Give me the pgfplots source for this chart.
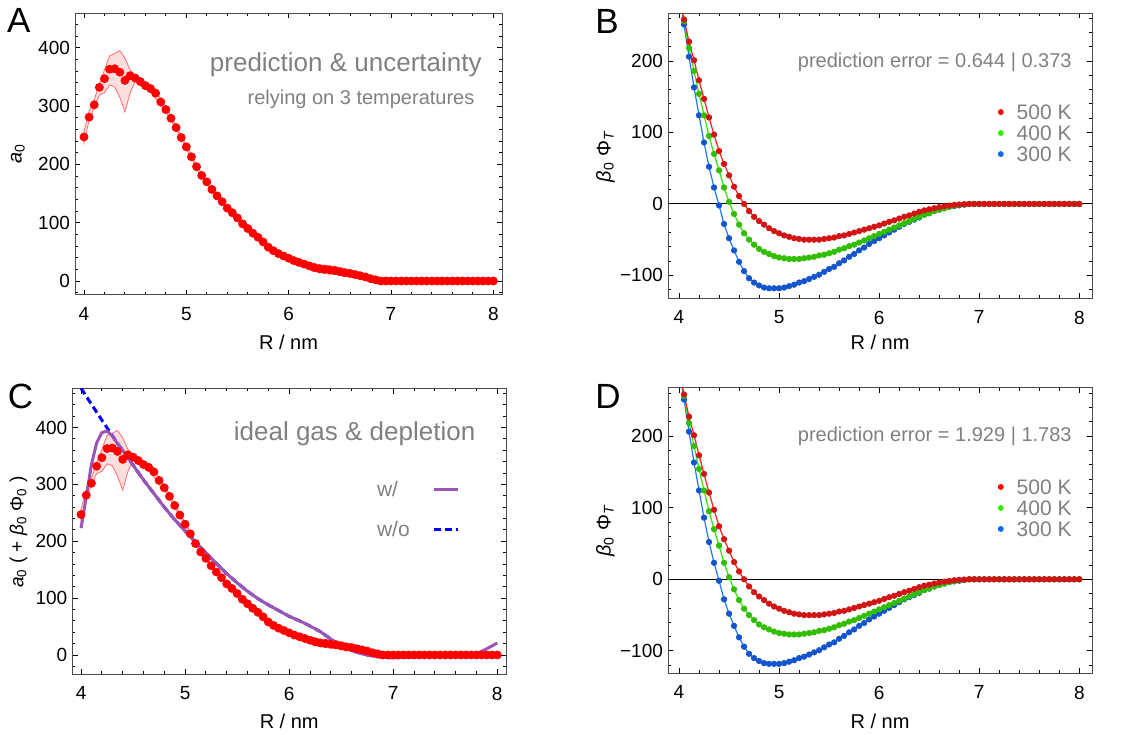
\documentclass[border=0pt]{standalone}
\usepackage{fontspec}
\setmainfont{Liberation Sans}
\usepackage{pgfplots}
\pgfplotsset{compat=1.18}
\usepackage{pgfplotstable}

\definecolor{dotred}{RGB}{255,0,0}
\definecolor{bandfill}{RGB}{253,222,222}
\definecolor{bandline}{RGB}{255,110,110}
\definecolor{rdot}{RGB}{210,20,20}
\definecolor{gdot}{RGB}{50,190,0}
\definecolor{bdot}{RGB}{20,85,205}
\definecolor{rline}{RGB}{255,30,30}
\definecolor{gline}{RGB}{40,235,0}
\definecolor{bline}{RGB}{30,120,255}
\definecolor{rleg}{RGB}{255,0,0}
\definecolor{gleg}{RGB}{51,238,0}
\definecolor{bleg}{RGB}{0,102,255}
\definecolor{purp}{RGB}{155,85,180}
\definecolor{dashblue}{RGB}{0,0,255}
\definecolor{txtgray}{RGB}{128,128,128}

% panel A / C : a0 values
\pgfplotstableread{
x v
4.00 247
4.05 281
4.10 302
4.15 332
4.20 347
4.25 363
4.30 364
4.35 358
4.40 344
4.45 352
4.50 348
4.55 342
4.60 335
4.65 330
4.70 322
4.75 307
4.80 294
4.85 279
4.90 263
4.95 246
5.00 230
5.05 213
5.10 196
5.15 181
5.20 170
5.25 157
5.30 146
5.35 136
5.40 125
5.45 117
5.50 108
5.55 98
5.60 90
5.65 82
5.70 75
5.75 67
5.80 58
5.85 52
5.90 47
5.95 43
6.00 39
6.05 35
6.10 32
6.15 29
6.20 26
6.25 23
6.30 21
6.35 20
6.40 19
6.45 18
6.50 16
6.55 14
6.60 13
6.65 11
6.70 9
6.75 7
6.80 4
6.85 2
6.90 0
6.95 0
7.00 0
7.05 0
7.10 0
7.15 0
7.20 0
7.25 0
7.30 0
7.35 0
7.40 0
7.45 0
7.50 0
7.55 0
7.60 0
7.65 0
7.70 0
7.75 0
7.80 0
7.85 0
7.90 0
7.95 0
8.00 0
}\adata

% uncertainty band outline: upper edge forward, lower edge backward
\pgfplotstableread{
x y
4.00 256
4.05 291
4.10 311
4.15 338
4.20 362
4.25 386
4.30 390
4.35 395
4.40 382
4.45 362
4.50 352
4.55 346
4.60 340
4.65 335
4.70 329
4.75 312
4.80 298
4.85 282
4.90 266
4.95 249
5.00 233
5.05 216
5.10 199
5.15 184
5.20 173
5.25 160
5.30 149
5.35 139
5.40 128
5.45 120
5.50 111
5.55 101
5.60 93
5.65 85
5.70 78
5.75 70
5.80 61
5.85 56
5.90 51
5.95 47
6.00 44
6.05 40
6.10 37
6.15 34
6.20 32
6.25 30
6.30 28
6.35 27
6.40 26
6.45 25
6.50 23
6.55 21
6.60 19
6.65 17
6.70 15
6.75 12
6.80 8
6.85 4
6.90 1
6.90 0
6.85 0
6.80 1
6.75 3
6.70 4
6.65 5
6.60 7
6.55 8
6.50 10
6.45 11
6.40 12
6.35 13
6.30 15
6.25 17
6.20 20
6.15 24
6.10 27
6.05 30
6.00 34
5.95 39
5.90 43
5.85 48
5.80 55
5.75 64
5.70 72
5.65 79
5.60 87
5.55 95
5.50 105
5.45 114
5.40 122
5.35 133
5.30 143
5.25 154
5.20 167
5.15 178
5.10 193
5.05 210
5.00 227
4.95 243
4.90 260
4.85 276
4.80 290
4.75 300
4.70 313
4.65 324
4.60 331
4.55 338
4.50 343
4.45 322
4.40 290
4.35 315
4.30 333
4.25 336
4.20 323
4.15 319
4.10 298
4.05 276
4.00 237
}\band

% panel B / D : beta0 Phi_T at 500 K (r), 400 K (g), 300 K (b); first row only for the lines
\pgfplotstableread{
x r g b
4.00 289 296 296
4.05 258 256 251
4.10 227 218 206
4.15 201 186 163
4.20 173 154 124
4.25 147 124 86
4.30 121 95 52
4.35 97 70 23
4.40 74 47 -2
4.45 56 23 -28
4.50 40 3 -48
4.55 24 -14 -65
4.60 11 -29 -81
4.65 0 -41 -94
4.70 -10 -50 -104
4.75 -18 -57 -110
4.80 -24 -63 -114
4.85 -29 -67 -117
4.90 -34 -70 -118
4.95 -38 -73 -118
5.00 -41 -75 -118
5.05 -44 -76 -117
5.10 -46 -77 -115
5.15 -48 -77 -113
5.20 -49 -77 -110
5.25 -50 -76 -108
5.30 -50 -75 -105
5.35 -50 -74 -102
5.40 -50 -72 -99
5.45 -49 -71 -95
5.50 -48 -69 -91
5.55 -47 -67 -88
5.60 -45 -64 -83
5.65 -44 -62 -79
5.70 -42 -59 -74
5.75 -40 -57 -70
5.80 -38 -54 -65
5.85 -36 -51 -61
5.90 -34 -48 -56
5.95 -32 -45 -52
6.00 -30 -42 -48
6.05 -27.5 -39 -44
6.10 -25 -36 -40
6.15 -23 -33 -36
6.20 -20.5 -30 -32
6.25 -18 -27 -28
6.30 -16 -24 -25
6.35 -13.5 -21 -22
6.40 -11 -18 -19
6.45 -9 -15 -15
6.50 -7.5 -13 -13
6.55 -6 -10 -10
6.60 -4.5 -8 -8
6.65 -3.3 -6 -6
6.70 -2.3 -4 -4
6.75 -1.4 -2.5 -3
6.80 -0.8 -1.5 -2
6.85 -0.4 -0.7 -1
6.90 0 0 0
6.95 0 0 0
7.00 0 0 0
7.05 0 0 0
7.10 0 0 0
7.15 0 0 0
7.20 0 0 0
7.25 0 0 0
7.30 0 0 0
7.35 0 0 0
7.40 0 0 0
7.45 0 0 0
7.50 0 0 0
7.55 0 0 0
7.60 0 0 0
7.65 0 0 0
7.70 0 0 0
7.75 0 0 0
7.80 0 0 0
7.85 0 0 0
7.90 0 0 0
7.95 0 0 0
8.00 0 0 0
}\bdata

% panel C : with (w) and without (wo) ideal gas term
\pgfplotstableread{
x w
4.00 223
4.05 278
4.10 335
4.15 373
4.20 391
4.25 394
4.30 385
4.35 372
4.40 360
4.45 347
4.50 334
4.60 308
4.70 284
4.80 260
4.90 238
5.00 218
5.10 198
5.20 180
5.30 161
5.40 143
5.50 127
5.60 112
5.70 99
5.80 88
5.90 78
6.00 68
6.10 60
6.20 51
6.30 41
6.40 28
6.50 16
6.60 8
6.70 2
6.80 -2
6.90 -4
7.00 -5
7.10 -4
7.20 -3
7.30 -2
7.40 -1
7.60 0
7.75 0
7.80 2
7.90 11
8.00 21
}\cwdata

\pgfplotstableread{
x wo
4.00 469
4.10 441
4.20 413
4.30 386
4.35 372
4.40 360
4.45 347
4.50 334
4.60 308
4.70 284
4.80 260
4.90 238
5.00 218
5.10 198
5.20 180
5.30 161
5.40 143
5.50 127
5.60 112
5.70 99
5.80 88
5.90 78
6.00 68
6.10 60
6.20 51
6.30 41
6.40 28
6.50 16
6.60 8
6.70 2
6.80 -2
6.90 -4
7.00 -5
7.10 -4
7.20 -3
7.30 -2
7.40 -1
7.60 0
8.00 0
}\cwodata

\pgfplotsset{
  panel/.style={
    scale only axis,
    anchor=south west,
    tick align=inside,
    major tick length=2.6pt,
    minor tick length=1.5pt,
    axis line style={draw=black!70, line width=0.5pt},
    every tick/.append style={black, line width=0.45pt},
    tick label style={font=\fontsize{9.5}{11}\selectfont, black},
    xticklabel style={yshift=-2.7pt},
    yticklabel style={xshift=1pt},
    /pgf/number format/assume math mode=true,
    xtick={4,5,6,7,8},
    minor xtick={4.2,4.4,4.6,4.8,5.2,5.4,5.6,5.8,6.2,6.4,6.6,6.8,7.2,7.4,7.6,7.8},
  },
  apanel/.style={panel,
    ytick={0,100,200,300,400},
    minor ytick={-20,20,40,60,80,120,140,160,180,220,240,260,280,320,340,360,380,420,440,460},
  },
  bpanel/.style={panel,
    ytick={-100,0,100,200},
    yticklabels={−100,0,100,200},
    minor ytick={-120,-80,-60,-40,-20,20,40,60,80,120,140,160,180,220,240,260},
    legend image code/.code={\draw[mark repeat=2,mark phase=2,##1] plot coordinates {(-2pt,0pt) (0pt,0pt) (2pt,0pt)};},
    legend style={draw=none, fill=none, inner sep=0pt, outer sep=0pt,
      font=\fontsize{10.5}{12}\selectfont, text=txtgray,
      nodes={inner sep=1pt, text height=7.3pt, text depth=0pt},
      row sep=1.2pt, column sep=5.7pt},
    legend cell align=left,
  },
}

\begin{document}
\begin{tikzpicture}
\useasboundingbox (0,0) rectangle (570.5pt,367pt);

% ---------------- A ----------------
\begin{axis}[apanel, at={(37.5pt,219.5pt)}, width=213.5pt, height=140.85pt,
  xmin=3.912, xmax=8.085, ymin=-24, ymax=459]
\addplot[fill=bandfill, draw=bandline, line width=0.4pt, forget plot] table[x=x,y=y]{\band} -- cycle;
\addplot[only marks, mark=*, mark size=2pt, color=dotred, forget plot] table[x=x,y=v]{\adata};
\end{axis}

% ---------------- B ----------------
\begin{axis}[bpanel, at={(334pt,217.85pt)}, width=212pt, height=142.5pt,
  xmin=3.89, xmax=8.127, ymin=-132, ymax=266.7,
  legend style={at={(rel axis cs:0.779,0.686)}, anchor=north west}]
\addplot[black, line width=0.5pt, forget plot] coordinates {(3.8,0) (8.2,0)};
\addplot[bline, line width=0.6pt, forget plot] table[x=x,y=b]{\bdata};
\addplot[gline, line width=0.6pt, forget plot] table[x=x,y=g]{\bdata};
\addplot[rline, line width=0.6pt, forget plot] table[x=x,y=r]{\bdata};
\addplot[only marks, mark=*, mark size=1.35pt, color=bdot, skip coords between index={0}{1}, forget plot] table[x=x,y=b]{\bdata};
\addplot[only marks, mark=*, mark size=1.35pt, color=gdot, skip coords between index={0}{1}, forget plot] table[x=x,y=g]{\bdata};
\addplot[only marks, mark=*, mark size=1.35pt, color=rdot, skip coords between index={0}{1}, forget plot] table[x=x,y=r]{\bdata};
\addlegendimage{only marks, mark=*, mark size=1.25pt, color=rleg}
\addlegendentry{500 K}
\addlegendimage{only marks, mark=*, mark size=1.25pt, color=gleg}
\addlegendentry{400 K}
\addlegendimage{only marks, mark=*, mark size=1.25pt, color=bleg}
\addlegendentry{300 K}
\end{axis}

% ---------------- C ----------------
\begin{axis}[apanel, at={(36.15pt,29.85pt)}, width=216.85pt, height=143pt,
  xmin=3.916, xmax=8.084, ymin=-34, ymax=469,
  legend plot pos=right,
  legend image code/.code={\draw[#1] (0pt,0pt) -- (12pt,0pt);},
  legend style={draw=none, fill=none, inner sep=0pt, outer sep=0pt,
    font=\fontsize{10.5}{12}\selectfont, text=txtgray,
    nodes={inner sep=1pt, text height=7pt, text depth=0pt},
    row sep=11pt, column sep=10.5pt,
    at={(rel axis cs:0.698,0.676)}, anchor=north west},
  legend cell align=left]
\addplot[fill=bandfill, draw=bandline, line width=0.4pt, forget plot] table[x=x,y=y]{\band} -- cycle;
\addplot[only marks, mark=*, mark size=2pt, color=dotred, forget plot] table[x=x,y=v]{\adata};
\addplot[dashblue, line width=1.5pt, dash pattern=on 3.5pt off 2pt, forget plot] table[x=x,y=wo]{\cwodata};
\addplot[purp, line width=1.5pt, forget plot] table[x=x,y=w]{\cwdata};
\addlegendimage{purp, line width=1.5pt}
\addlegendentry{w/}
\addlegendimage{dashblue, line width=1.5pt, dash pattern=on 3.5pt off 2pt}
\addlegendentry{w/o}
\end{axis}

% ---------------- D ----------------
\begin{axis}[bpanel, at={(334pt,30.35pt)}, width=212pt, height=142.8pt,
  xmin=3.89, xmax=8.127, ymin=-131.2, ymax=267.4,
  legend style={at={(rel axis cs:0.779,0.685)}, anchor=north west}]
\addplot[black, line width=0.5pt, forget plot] coordinates {(3.8,0) (8.2,0)};
\addplot[bline, line width=0.6pt, forget plot] table[x=x,y=b]{\bdata};
\addplot[gline, line width=0.6pt, forget plot] table[x=x,y=g]{\bdata};
\addplot[rline, line width=0.6pt, forget plot] table[x=x,y=r]{\bdata};
\addplot[only marks, mark=*, mark size=1.35pt, color=bdot, skip coords between index={0}{1}, forget plot] table[x=x,y=b]{\bdata};
\addplot[only marks, mark=*, mark size=1.35pt, color=gdot, skip coords between index={0}{1}, forget plot] table[x=x,y=g]{\bdata};
\addplot[only marks, mark=*, mark size=1.35pt, color=rdot, skip coords between index={0}{1}, forget plot] table[x=x,y=r]{\bdata};
\addlegendimage{only marks, mark=*, mark size=1.25pt, color=rleg}
\addlegendentry{500 K}
\addlegendimage{only marks, mark=*, mark size=1.25pt, color=gleg}
\addlegendentry{400 K}
\addlegendimage{only marks, mark=*, mark size=1.25pt, color=bleg}
\addlegendentry{300 K}
\end{axis}

% ---------------- texts ----------------
\begin{scope}[every node/.style={inner sep=0pt}]
\node[anchor=base west, font=\fontsize{17.5}{20}\selectfont] at (3.3pt,350.5pt) {A};
\node[anchor=base west, font=\fontsize{17.5}{20}\selectfont] at (297.5pt,350.3pt) {B};
\node[anchor=base west, font=\fontsize{17.5}{20}\selectfont] at (3.8pt,162.8pt) {C};
\node[anchor=base west, font=\fontsize{17.5}{20}\selectfont] at (297.5pt,162.8pt) {D};

\node[anchor=base, font=\fontsize{13}{15}\selectfont, text=txtgray] at (172.9pt,331.2pt) {prediction \& uncertainty};
\node[anchor=base, font=\fontsize{10}{12}\selectfont, text=txtgray] at (180.5pt,314.5pt) {relying on 3 temperatures};
\node[anchor=base east, font=\fontsize{10}{12}\selectfont, text=txtgray] at (536pt,333.2pt) {prediction error = 0.644 | 0.373};
\node[anchor=base, font=\fontsize{13}{15}\selectfont, text=txtgray] at (177.3pt,146.5pt) {ideal gas \& depletion};
\node[anchor=base east, font=\fontsize{10}{12}\selectfont, text=txtgray] at (536pt,146.2pt) {prediction error = 1.929 | 1.783};

\node[anchor=base, font=\fontsize{10}{12}\selectfont] at (144.25pt,192pt) {R / nm};
\node[anchor=base, font=\fontsize{10}{12}\selectfont] at (440pt,192pt) {R / nm};
\node[anchor=base, font=\fontsize{10}{12}\selectfont] at (144.6pt,2.6pt) {R / nm};
\node[anchor=base, font=\fontsize{10}{12}\selectfont] at (440pt,2.6pt) {R / nm};

\node[rotate=90, anchor=base, font=\fontsize{10}{12}\selectfont] at (10.8pt,290pt) {\textit{a}\textsubscript{0}};
\node[rotate=90, anchor=base, font=\fontsize{9.5}{12}\selectfont] at (11.7pt,101pt) {\textit{a}\textsubscript{0} ( + \textit{β}\textsubscript{0} Φ\textsubscript{0} )};
\node[rotate=90, anchor=base, font=\fontsize{10}{12}\selectfont] at (305.3pt,289pt) {\textit{β}\textsubscript{0} Φ\textsubscript{\textit{T}}};
\node[rotate=90, anchor=base, font=\fontsize{10}{12}\selectfont] at (305.3pt,101.75pt) {\textit{β}\textsubscript{0} Φ\textsubscript{\textit{T}}};
\end{scope}
\end{tikzpicture}
\end{document}
